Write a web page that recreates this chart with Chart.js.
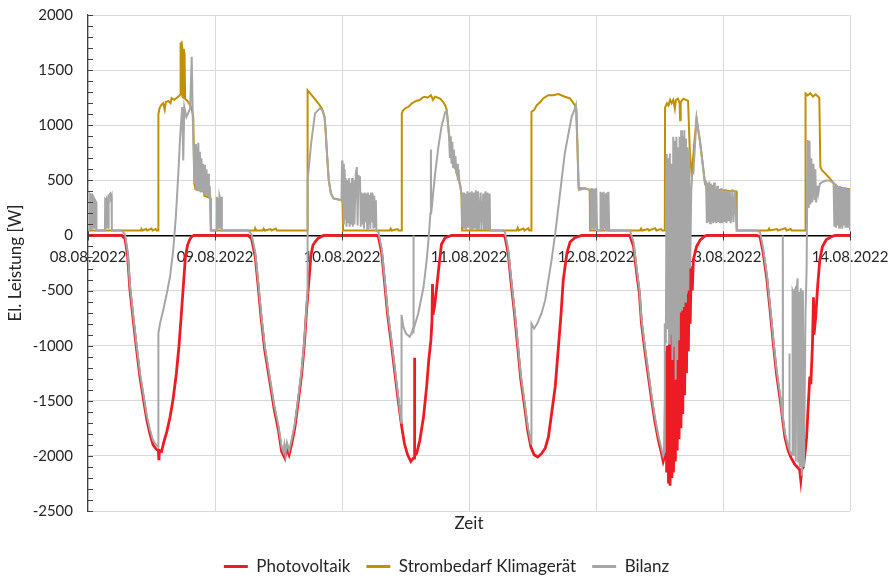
<!DOCTYPE html>
<html>
<head>
<meta charset="utf-8">
<script src="https://cdn.jsdelivr.net/npm/chart.js@4.4.1/dist/chart.umd.min.js"></script>
<style>
  body { margin: 0; background: #fff; }
  #wrap { width: 893px; height: 579px; }
</style>
</head>
<body>
<div id="wrap"><canvas id="lineChart"></canvas></div>
<script>
// x values are hours since 08.08.2022 00:00
var dayLabels = ['08.08.2022', '09.08.2022', '10.08.2022', '11.08.2022', '12.08.2022', '13.08.2022', '14.08.2022'];
var seriesNames = ['Photovoltaik', 'Strombedarf Klimagerät', 'Bilanz'];

var photovoltaik = [
  [0,0],[6.4,0],[7.0,-30],[7.5,-190],[7.9,-480],[8.6,-790],[9.2,-1040],[9.8,-1280],[10.5,-1490],[11.1,-1670],
  [11.7,-1800],[12.3,-1900],[12.9,-1940],[13.3,-1950],[13.4,-2040],[13.5,-1950],[13.9,-1960],[14.3,-1880],[14.9,-1780],
  [15.5,-1650],[16.1,-1480],[16.7,-1250],[17.2,-1000],[17.6,-740],[18.0,-470],[18.4,-200],[18.8,-90],[19.2,-40],[19.6,-10],[20.0,0],
  [30.3,0],[30.9,-30],[31.6,-190],[32.1,-430],[32.7,-740],[33.4,-1040],[34.4,-1340],[35.2,-1580],[36.0,-1770],[36.6,-1960],
  [37.2,-2020],[37.5,-1930],[38.0,-1990],[38.5,-1890],[39.1,-1740],[39.7,-1520],[40.4,-1250],[40.9,-980],[41.3,-680],
  [41.8,-380],[42.1,-190],[42.5,-90],[42.9,-60],[43.5,-25],[44.5,0],
  [54.6,0],[54.9,-15],[55.5,-160],[56.0,-400],[56.6,-710],[57.4,-1010],[58.0,-1250],[58.6,-1490],[59.3,-1740],[59.8,-1890],
  [60.4,-1990],[61.0,-2050],[61.5,-2020],[61.65,-2020],[61.7,-1110],[61.75,-2000],[62.1,-1980],[62.7,-1860],[63.4,-1650],
  [64.0,-1370],[64.4,-1130],[64.8,-950],[65.0,-780],[65.1,-440],[65.2,-720],[65.5,-640],[65.9,-470],[66.3,-290],[66.8,-80],
  [67.5,-20],[68.7,0],
  [78.5,0],[78.8,-12],[79.4,-160],[79.9,-400],[80.6,-710],[81.2,-1010],[81.8,-1310],[82.5,-1550],[83.1,-1770],[83.7,-1920],
  [84.3,-1990],[85.0,-2010],[85.7,-1980],[86.4,-1930],[87.0,-1830],[87.6,-1620],[88.3,-1370],[88.9,-1010],[89.4,-710],
  [89.8,-410],[90.5,-160],[91.1,-60],[92.0,-20],[93.3,0],
  [102.4,0],[103.1,-100],[103.7,-345],[104.2,-525],[104.6,-800],[105.3,-1070],[105.9,-1280],[106.5,-1490],[107.1,-1680],
  [107.8,-1860],[108.4,-1980],[108.7,-2050],[109.0,-2000],[109.2,-1050],[109.35,-2150],[109.5,-1000],[109.7,-2250],
  [109.85,-950],[110.0,-2270],[110.2,-900],[110.35,-2200],[110.5,-850],[110.65,-2150],[110.85,-780],[111.0,-2050],
  [111.2,-700],[111.35,-1950],[111.55,-650],[111.7,-1850],[111.9,-560],[112.05,-1750],[112.25,-500],[112.4,-1620],
  [112.6,-450],[112.75,-1450],[112.95,-380],[113.1,-1250],[113.3,-330],[113.45,-1050],[113.65,-290],[113.8,-800],
  [114.0,-280],[114.2,-500],[114.4,-220],[115.0,-100],[115.7,-40],[116.6,-5],[117.0,0],
  [126.4,0],[127.0,-12],[127.6,-160],[128.3,-400],[128.9,-680],[129.5,-980],[130.1,-1250],[130.8,-1490],[131.3,-1680],
  [131.7,-1830],[132.3,-1950],[132.9,-2020],[133.6,-2080],[134.2,-2110],[134.5,-2130],[134.7,-2220],[134.9,-2120],
  [135.2,-2100],[135.5,-1980],[135.8,-1830],[136.1,-1550],[136.4,-1280],[136.6,-1350],[136.9,-1000],[137.1,-560],
  [137.2,-900],[137.5,-750],[137.9,-450],[138.3,-220],[138.8,-100],[139.5,-40],[140.5,-10],[141.2,0],[144,0]
];

var klimageraet = [
  [0,45],[10.0,45],[10.1,60],[10.3,45],[11.0,58],[11.2,45],[12.0,62],[12.2,45],[12.8,58],[13.0,45],[13.28,45],
  [13.3,1100],[13.5,1150],[13.8,1180],[14.2,1200],[14.5,1140],[14.7,1210],[15.2,1220],[15.6,1200],[15.8,1245],[16.3,1230],
  [16.8,1250],[17.3,1270],[17.45,1280],[17.5,1740],[17.7,1750],[17.8,1700],[17.85,1260],[18.0,1250],[18.1,1690],
  [18.25,1640],[18.35,1240],[18.8,1220],[19.3,1180],[19.6,1150],[19.9,1070],[20.1,470],[20.3,420],[21.8,400],
  [22.0,360],[23.1,340],[23.2,45],
  [31.5,45],[31.6,65],[31.8,45],[33.0,45],[33.2,62],[33.4,45],[34.5,58],[34.7,45],[35.5,62],[35.7,45],[41.45,45],
  [41.5,1318],[42.5,1260],[43.5,1200],[44.2,1152],[44.7,1076],[44.9,955],[45.2,713],[45.5,502],[45.9,381],[46.4,336],
  [47.9,320],[48.1,300],[48.2,45],
  [57.0,45],[57.2,62],[57.4,45],[58.5,58],[58.7,45],[59.25,45],
  [59.3,1107],[59.5,1131],[59.9,1152],[60.6,1168],[61.2,1198],[62.0,1220],[62.7,1228],[63.2,1250],[63.7,1258],
  [64.2,1250],[64.8,1273],[65.2,1230],[65.6,1258],[66.1,1250],[66.6,1240],[67.1,1212],[67.5,1180],[67.8,1137],
  [68.2,925],[69.0,700],[69.7,560],[70.3,470],[70.6,360],[70.7,45],
  [81.0,45],[81.2,70],[81.4,45],[82.3,62],[82.5,45],[83.2,66],[83.4,45],[83.75,45],
  [83.8,1122],[84.3,1137],[84.8,1182],[85.5,1210],[86.0,1243],[87.0,1273],[87.9,1273],[88.9,1282],[90.1,1258],
  [91.1,1243],[92.0,1182],[92.3,1150],[92.5,800],[92.7,430],[93.9,425],[94.8,415],[94.9,45],
  [104.3,45],[104.5,62],[104.7,45],[105.8,58],[106.0,45],[107.2,66],[107.4,45],[108.3,58],[108.5,45],[109.0,45],
  [109.05,1160],[109.4,1200],[109.7,1180],[110.0,1230],[110.3,1200],[110.6,1230],[110.9,1150],[111.1,1230],[111.5,1240],
  [111.8,1200],[111.9,1046],[112.0,1210],[112.5,1240],[113.0,1230],[113.4,1220],[113.7,800],[114.1,530],[114.5,800],
  [115.0,1062],[115.7,835],[116.3,592],[116.6,470],[117.0,420],[122.5,400],[122.6,45],
  [128.5,45],[128.7,62],[128.9,45],[130.2,58],[130.4,45],[131.8,66],[132.0,45],[132.8,58],[133.0,45],[135.55,45],
  [135.6,1288],[136.0,1270],[136.5,1290],[137.0,1260],[137.5,1280],[138.0,1258],[138.2,1250],[138.4,622],[138.7,592],
  [139.6,547],[140.2,517],[140.9,472],[141.5,440],[144,420]
];

var bilanz = [
  [0,45],[0.35,45],[0.4,370],[0.55,360],[0.6,60],[0.7,380],[0.85,340],[0.9,60],[1.0,350],[1.2,330],[1.25,60],[1.35,320],
  [1.55,300],[1.6,45],[3.2,45],[3.25,330],[3.45,320],[3.5,60],[3.6,340],[3.8,330],[3.85,60],[3.95,360],[4.2,380],
  [4.3,340],[4.45,360],[4.5,45],[6.4,45],[7.0,10],[7.5,-150],[7.9,-440],[8.6,-750],[9.2,-1000],[9.8,-1240],[10.5,-1450],
  [11.1,-1630],[11.7,-1760],[12.3,-1860],[12.9,-1900],[13.28,-1920],
  [13.3,-890],[13.6,-800],[14.2,-680],[14.9,-525],[15.5,-375],[16.1,-135],[16.6,170],[17.1,590],[17.4,890],[17.8,1165],
  [18.0,680],[18.2,1165],[18.6,1075],[19.3,1150],[19.6,1620],[19.8,1075],[20.1,470],[20.3,830],[20.4,420],[20.55,800],
  [20.7,400],[20.85,840],[21.0,410],[21.15,760],[21.3,390],[21.45,700],[21.6,400],[21.8,650],[21.95,380],[22.1,640],
  [22.25,370],[22.4,600],[22.55,360],[22.7,560],[22.85,350],[23.0,450],[23.1,340],[23.25,45],
  [24.3,45],[24.35,350],[24.5,60],[24.6,340],[24.75,60],[24.85,360],[25.0,330],[25.05,60],[25.15,350],[25.3,45],
  [30.3,45],[30.9,10],[31.6,-150],[32.1,-390],[32.7,-700],[33.4,-1000],[34.4,-1300],[35.2,-1540],[36.0,-1730],
  [36.6,-1920],[36.9,-1960],[37.1,-1900],[37.3,-1990],[37.6,-1880],[38.0,-1950],[38.5,-1850],[39.1,-1700],[39.7,-1480],
  [40.4,-1210],[40.9,-940],[41.3,-640],[41.45,-520],
  [41.5,500],[42.2,850],[42.9,1107],[43.5,1137],[43.8,1152],[44.3,1137],[44.7,1076],[44.9,955],[45.2,713],[45.5,502],
  [45.9,381],[46.4,336],[47.9,320],[48.0,680],[48.1,300],[48.2,650],[48.35,100],[48.5,600],[48.6,150],[48.7,520],
  [48.85,80],[49.0,500],[49.15,120],[49.3,520],[49.45,80],[49.6,480],[49.75,100],[49.9,520],[50.05,80],[50.2,500],
  [50.35,100],[50.6,560],[50.8,620],[50.95,90],[51.1,540],[51.4,530],[51.55,80],[51.7,390],[51.85,100],[52.0,380],
  [52.15,60],[52.3,390],[52.45,120],[52.6,380],[52.75,60],[52.9,390],[53.05,100],[53.2,370],[53.35,60],[53.5,390],
  [53.65,120],[53.8,380],[53.95,60],[54.1,360],[54.25,80],[54.4,320],[54.5,45],
  [54.6,45],[54.9,30],[55.5,-120],[56.0,-360],[56.6,-670],[57.4,-970],[58.0,-1210],[58.6,-1450],[59.2,-1700],
  [59.25,-720],[59.6,-830],[60.1,-890],[60.8,-920],[61.2,-880],[61.45,-840],[61.5,0],[61.55,-850],[62.4,-710],
  [63.4,-470],[64.0,-225],[64.4,-10],[64.7,200],[64.8,780],[64.85,200],[65.1,320],[65.6,560],[66.2,800],[66.8,985],
  [67.5,1120],[67.8,1130],[68.2,925],[68.4,700],[68.55,900],[68.7,650],[68.85,850],[69.0,620],[69.15,780],[69.3,600],
  [69.45,720],[69.6,560],[69.75,650],[69.9,500],[70.05,600],[70.2,470],[70.3,470],[70.6,366],
  [70.7,80],[70.9,390],[71.05,60],[71.3,380],[71.45,50],[71.7,400],[71.85,70],[72.1,390],[72.25,50],[72.5,400],
  [72.65,50],[72.9,390],[73.05,60],[73.3,410],[73.45,50],[73.7,400],[73.85,50],[74.2,390],[74.35,50],[74.7,380],
  [74.85,50],[75.1,400],[75.25,50],[75.5,390],[75.65,50],[75.9,380],[76.0,45],
  [78.5,45],[78.8,30],[79.4,-120],[79.9,-360],[80.6,-670],[81.2,-970],[81.8,-1270],[82.5,-1510],[83.1,-1730],
  [83.7,-1880],[83.75,-1890],
  [83.8,-800],[84.3,-844],[84.9,-800],[85.7,-708],[86.4,-587],[87.0,-406],[87.6,-224],[88.3,18],[88.9,260],[89.5,502],
  [90.1,744],[90.8,925],[91.4,1076],[91.9,1137],[92.2,1182],[92.5,804],[92.7,502],[92.8,411],[93.9,429],[94.9,411],
  [95.0,48],[95.15,430],[95.3,60],[95.45,426],[95.6,50],[95.75,420],[95.9,60],[96.05,430],[96.2,45],[96.8,45],
  [96.85,396],[97.0,60],[97.15,390],[97.3,50],[97.45,396],[97.6,60],[97.75,380],[97.9,50],[98.05,390],[98.2,60],
  [98.35,396],[98.5,45],
  [102.4,45],[103.1,-60],[103.7,-305],[104.2,-485],[104.6,-760],[105.3,-1030],[105.9,-1240],[106.5,-1450],
  [107.1,-1640],[107.8,-1820],[108.4,-1940],[108.7,-2000],[108.95,-1960],
  [109.0,-800],[109.2,-980],[109.35,740],[109.5,-850],[109.65,700],[109.8,-980],[109.95,744],[110.1,-900],[110.3,650],
  [110.45,-1130],[110.6,895],[110.75,-1000],[110.9,860],[111.05,-1310],[111.2,895],[111.35,-1130],[111.5,800],
  [111.65,-950],[111.8,895],[111.95,-700],[112.1,955],[112.25,-680],[112.4,900],[112.55,-650],[112.7,955],[112.85,-600],
  [113.0,880],[113.15,-527],[113.3,800],[113.45,-500],[113.6,780],[113.8,-300],[114.0,400],[114.2,560],[114.4,562],
  [115.0,1062],[115.7,835],[116.3,592],[116.6,472],
  [116.8,480],[116.95,110],[117.1,470],[117.25,120],[117.4,490],[117.55,110],[117.7,470],[117.85,130],[118.0,460],
  [118.15,110],[118.3,480],[118.45,120],[118.6,420],[118.75,110],[118.9,450],[119.05,120],[119.3,410],[119.45,110],
  [119.7,430],[119.85,110],[120.1,400],[120.25,120],[120.5,420],[120.65,110],[120.9,400],[121.05,130],[121.3,410],
  [121.45,110],[121.8,420],[121.95,120],[122.3,400],[122.5,120],[122.6,45],
  [126.4,45],[127.0,30],[127.6,-120],[128.3,-360],[128.9,-640],[129.5,-940],[130.1,-1210],[130.8,-1450],[131.25,-1640],
  [131.3,0],[131.35,-1660],[131.7,-1790],[132.3,-1910],[132.5,-1940],[132.55,-1070],[132.6,-1950],[132.9,-1980],
  [133.1,-1990],[133.15,-500],[133.3,-520],[133.35,-2000],[133.5,-500],[133.7,-480],[133.75,-2050],[133.9,-500],
  [134.1,-390],[134.2,-2060],[134.4,-510],[134.5,-2100],[134.7,-480],[134.9,-2180],[135.1,-500],[135.3,-2100],
  [135.6,-700],[135.8,-300],[136.0,865],[136.2,250],[136.35,860],[136.5,280],[136.7,700],[136.85,300],[137.1,650],
  [137.3,320],[137.45,600],[137.6,300],[137.8,450],[138.0,380],[138.3,470],[139.0,490],[139.6,500],[140.2,495],
  [140.9,480],[141.05,80],[141.2,470],[141.35,70],[141.5,460],[141.65,90],[141.8,440],[141.95,70],[142.1,450],
  [142.25,80],[142.4,430],[142.55,60],[142.7,440],[142.85,90],[143.0,420],[143.15,70],[143.3,430],[143.45,80],
  [143.6,420],[143.75,90],[143.9,420],[144,45]
];

function toXY(list) {
  return list.map(function (p) { return { x: p[0], y: p[1] }; });
}

// minor tick marks on the y axis and cross ticks on the zero line
var axisMarks = {
  id: 'axisMarks',
  afterDatasetsDraw: function (chart) {
    var c = chart.ctx, xs = chart.scales.x, ys = chart.scales.y;
    c.save();
    c.strokeStyle = '#404040';
    c.lineWidth = 1;
    c.beginPath();
    for (var v = -2500; v <= 2000; v += 100) {
      var py = Math.round(ys.getPixelForValue(v)) + 0.5;
      c.moveTo(xs.left, py);
      c.lineTo(xs.left + 5, py);
    }
    var y0 = ys.getPixelForValue(0);
    for (var d = 0; d < dayLabels.length; d++) {
      var px = Math.round(xs.getPixelForValue(d * 24)) + 0.5;
      c.moveTo(px, y0 - 4);
      c.lineTo(px, y0 + 5);
    }
    c.stroke();
    c.restore();
  }
};

Chart.defaults.font.family = 'Lato, "Open Sans", sans-serif';
Chart.defaults.font.size = 15;
Chart.defaults.color = '#262626';

var ctx = document.getElementById('lineChart').getContext('2d');
var myChart = new Chart(ctx, {
  type: 'line',
  data: {
    datasets: [{
      label: seriesNames[0],
      data: toXY(photovoltaik),
      borderColor: '#ED1C24',
      backgroundColor: '#ED1C24',
      borderWidth: 2.8,
      order: 1
    }, {
      label: seriesNames[1],
      data: toXY(klimageraet),
      borderColor: '#BF9000',
      backgroundColor: '#BF9000',
      borderWidth: 2,
      order: 2
    }, {
      label: seriesNames[2],
      data: toXY(bilanz),
      borderColor: '#A6A6A6',
      backgroundColor: '#A6A6A6',
      borderWidth: 2,
      order: 0
    }]
  },
  options: {
    responsive: true,
    maintainAspectRatio: false,
    animation: false,
    layout: { padding: { top: 0, right: 0, left: 0, bottom: -6 } },
    elements: { point: { radius: 0 }, line: { tension: 0 } },
    scales: {
      x: {
        type: 'linear',
        min: 0,
        max: 144,
        position: { y: 0 },
        grid: { color: '#D9D9D9', drawTicks: false },
        border: { color: '#000000', width: 1.5 },
        ticks: {
          stepSize: 24,
          autoSkip: false,
          maxRotation: 0,
          padding: 13,
          callback: function (v) { return dayLabels[v / 24]; }
        },
        afterFit: function (s) { s.paddingLeft = 0; s.paddingRight = 43; }
      },
      x2: {
        type: 'linear',
        min: 0,
        max: 144,
        position: 'bottom',
        grid: { display: false },
        border: { display: false },
        ticks: { display: false },
        title: { display: true, text: 'Zeit', font: { size: 17 }, padding: { top: 0, bottom: 8 } },
        afterFit: function (s) { s.height = 31; s.paddingLeft = 0; s.paddingRight = 0; }
      },
      y: {
        min: -2500,
        max: 2000,
        grid: { color: '#D9D9D9', drawTicks: false },
        border: { color: '#404040', width: 1.2 },
        ticks: { stepSize: 500, padding: 15, callback: function (v) { return String(v); } },
        title: { display: true, text: 'El. Leistung [W]', font: { size: 17 }, padding: { top: 5, bottom: 4 } },
        afterFit: function (s) { s.width = 88; s.paddingTop = 15; s.paddingBottom = 0; }
      }
    },
    plugins: {
      tooltip: { enabled: false },
      legend: {
        position: 'bottom',
        labels: {
          font: { size: 17 },
          boxWidth: 24,
          boxHeight: 3,
          padding: 16,
          sort: function (a, b) { return a.datasetIndex - b.datasetIndex; },
          generateLabels: function (chart) {
            var items = Chart.defaults.plugins.legend.labels.generateLabels(chart);
            items.forEach(function (it) { it.lineWidth = 0; it.fillStyle = it.strokeStyle; });
            return items;
          }
        }
      }
    }
  },
  plugins: [axisMarks]
});
</script>
</body>
</html>
